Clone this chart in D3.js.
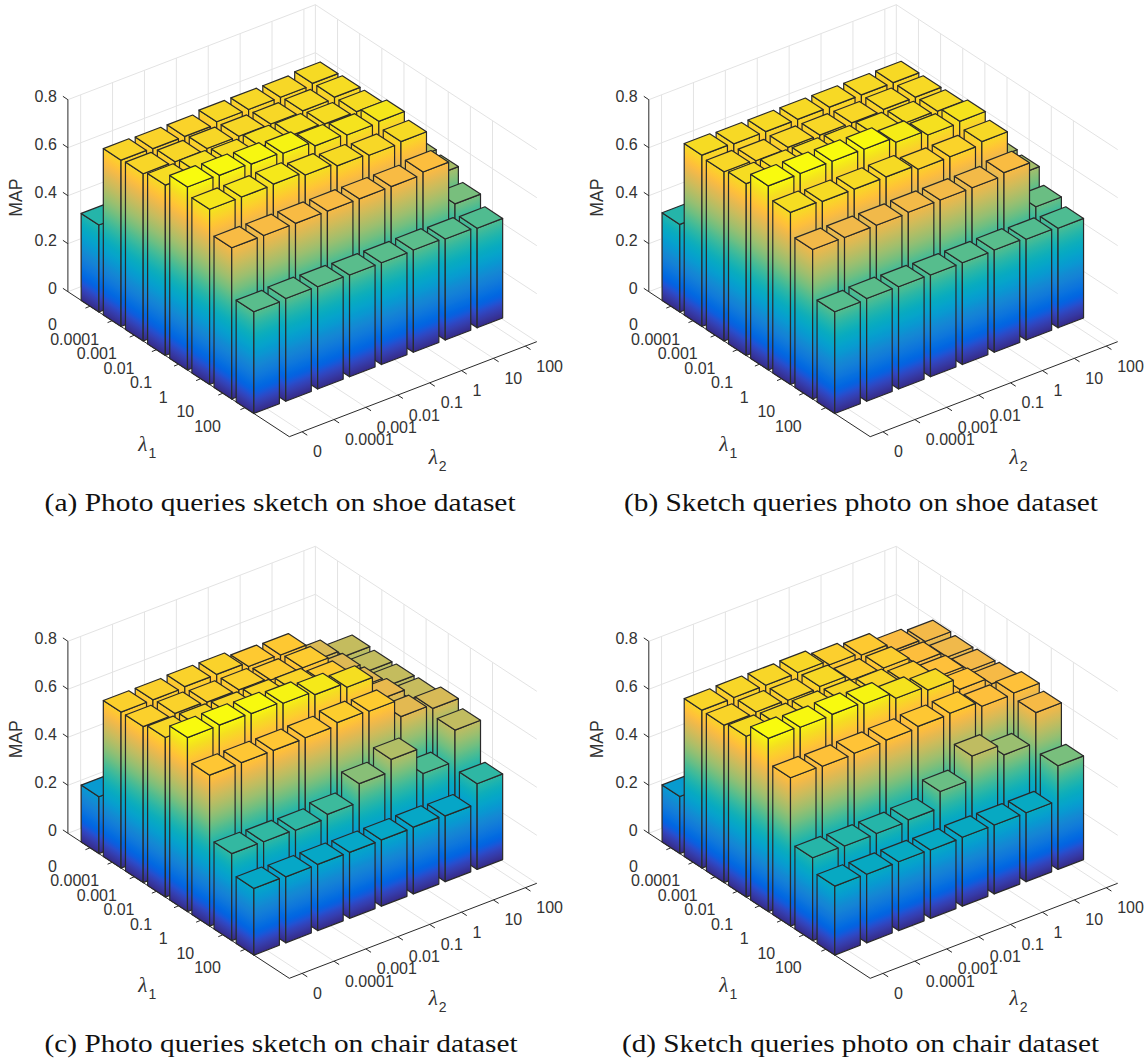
<!DOCTYPE html>
<html><head><meta charset="utf-8">
<script src="https://cdn.jsdelivr.net/npm/d3@7/dist/d3.min.js"></script>
<style>html,body{margin:0;padding:0;background:#fff;overflow:hidden}svg{display:block}</style>
</head><body><div id="chart"></div>
<script>
const lambdaLabels = ["0","0.0001","0.001","0.01","0.1","1","10","100"];
const zTicks = [0,0.2,0.4,0.6,0.8];
const captions = ["(a) Photo queries sketch on shoe dataset","(b) Sketch queries photo on shoe dataset","(c) Photo queries sketch on chair dataset","(d) Sketch queries photo on chair dataset"];
// rows: lambda1 (0 … 100), columns: lambda2 (0 … 100)
const mapA = [
 [.3625,.36,.36,.36,.36,.36,.36,.30],
 [.693,.69,.69,.70,.70,.70,.707,.50],
 [.697,.696,.70,.70,.70,.704,.71,.50],
 [.71,.714,.71,.717,.715,.71,.71,.50],
 [.7625,.76,.756,.75,.73,.724,.73,.52],
 [.73,.73,.733,.72,.707,.70,.706,.51],
 [.63,.63,.63,.63,.63,.63,.64,.456],
 [.424,.428,.426,.424,.424,.426,.421,.415]];
const mapB = [
 [.365,.36,.36,.36,.36,.36,.36,.30],
 [.714,.71,.71,.71,.71,.71,.71,.50],
 [.705,.70,.705,.705,.705,.71,.71,.50],
 [.716,.717,.716,.716,.72,.715,.712,.50],
 [.767,.768,.768,.767,.745,.724,.73,.52],
 [.717,.712,.712,.712,.693,.694,.706,.51],
 [.623,.622,.622,.625,.625,.625,.637,.444],
 [.424,.428,.426,.424,.424,.426,.42,.415]];
const mapC = [
 [.237,.235,.235,.235,.235,.235,.235,.23],
 [.65,.65,.654,.654,.636,.633,.555,.525],
 [.65,.654,.65,.65,.64,.64,.56,.522],
 [.665,.665,.664,.665,.66,.64,.564,.525],
 [.725,.726,.723,.715,.70,.68,.576,.528],
 [.629,.63,.63,.632,.644,.64,.567,.55],
 [.3625,.361,.358,.373,.45,.50,.39,.52],
 [.278,.275,.276,.275,.276,.278,.274,.357]];
const mapD = [
 [.238,.235,.235,.235,.235,.235,.235,.23],
 [.658,.66,.66,.662,.643,.633,.60,.587],
 [.656,.66,.658,.664,.64,.639,.608,.583],
 [.67,.668,.668,.665,.657,.64,.612,.587],
 [.722,.717,.72,.712,.685,.668,.62,.592],
 [.618,.615,.618,.622,.628,.632,.61,.614],
 [.345,.343,.344,.35,.417,.514,.468,.593],
 [.2875,.286,.287,.285,.287,.287,.287,.432]];
const parula = [[.2081,.1663,.5292],[.2116,.1898,.5777],[.2123,.2138,.6270],[.2081,.2386,.6771],[.1959,.2645,.7279],[.1707,.2919,.7792],[.1253,.3242,.8303],[.0591,.3598,.8683],[.0117,.3875,.8820],[.0060,.4086,.8828],[.0165,.4266,.8786],[.0329,.4430,.8720],[.0498,.4586,.8641],[.0629,.4737,.8554],[.0723,.4887,.8467],[.0779,.5040,.8384],[.0793,.5200,.8312],[.0749,.5375,.8263],[.0641,.5570,.8240],[.0488,.5772,.8228],[.0343,.5966,.8199],[.0265,.6137,.8135],[.0239,.6287,.8038],[.0231,.6418,.7913],[.0228,.6535,.7768],[.0267,.6642,.7607],[.0384,.6743,.7436],[.0590,.6838,.7254],[.0843,.6928,.7062],[.1133,.7015,.6859],[.1453,.7098,.6646],[.1801,.7177,.6424],[.2178,.7250,.6193],[.2586,.7317,.5954],[.3022,.7376,.5712],[.3482,.7424,.5473],[.3953,.7459,.5244],[.4420,.7481,.5033],[.4871,.7491,.4840],[.5300,.7491,.4661],[.5709,.7485,.4494],[.6099,.7473,.4337],[.6473,.7456,.4188],[.6834,.7435,.4044],[.7184,.7411,.3905],[.7525,.7384,.3768],[.7858,.7356,.3633],[.8185,.7327,.3498],[.8507,.7299,.3360],[.8824,.7274,.3217],[.9139,.7258,.3063],[.9450,.7261,.2886],[.9739,.7314,.2666],[.9938,.7455,.2403],[.9990,.7653,.2164],[.9955,.7861,.1967],[.9880,.8066,.1794],[.9789,.8271,.1633],[.9697,.8481,.1475],[.9626,.8705,.1309],[.9589,.8949,.1132],[.9598,.9218,.0948],[.9661,.9514,.0755],[.9763,.9831,.0538]].map(c=>d3.rgb(c[0]*255,c[1]*255,c[2]*255).formatHex());

const panels = [
 {map:mapA, ox:67.9, oy:291.7, cap:[44.6,471,502]},
 {map:mapB, ox:648.8, oy:291.7, cap:[624,474,502]},
 {map:mapC, ox:67.9, oy:833.3, cap:[44.6,473,1043]},
 {map:mapD, ox:648.8, oy:833.3, cap:[622,477,1043]}
];
const A_MAX=10, B_MIN=0.6, B_MAX=8.36, Z_MAX=0.8, HALF=0.4;
const ux=d3.scaleLinear([0,A_MAX],[0,221.4]), uy=d3.scaleLinear([0,A_MAX],[0,145]);
const vx=d3.scaleLinear([B_MIN,B_MAX],[0,247.5]), vy=d3.scaleLinear([B_MIN,B_MAX],[0,-95]);
const zy=d3.scaleLinear([0,Z_MAX],[0,-192]);
const GRID="#e3e3e3", AXIS="#2a2a2a", TXT="#333333", EDGE="#2a2a2a";
const W=1148,H=1059;
const svg=d3.select("#chart").append("svg").attr("width",W).attr("height",H).attr("viewBox",[0,0,W,H]);
svg.append("rect").attr("width",W).attr("height",H).attr("fill","#fff");
const defs=svg.append("defs");
const idx=d3.range(1,9);
const SANS="'Liberation Sans',Arial,sans-serif";

panels.forEach((p,pi)=>{
  const g=svg.append("g");
  const P=(a,b,z=0)=>[p.ox+ux(a)+vx(b), p.oy+uy(a)+vy(b)+zy(z)];
  const line=(q,r,col,w=1)=>g.append("line").attr("x1",q[0]).attr("y1",q[1]).attr("x2",r[0]).attr("y2",r[1]).attr("stroke",col).attr("stroke-width",w);
  // grid
  idx.forEach(i=>{
    line(P(i,B_MIN),P(i,B_MAX),GRID);
    line(P(i,B_MAX),P(i,B_MAX,Z_MAX),GRID);
    line(P(0,i),P(A_MAX,i),GRID);
    line(P(0,i),P(0,i,Z_MAX),GRID);
  });
  zTicks.forEach(z=>{
    line(P(0,B_MIN,z),P(0,B_MAX,z),GRID);
    line(P(0,B_MAX,z),P(A_MAX,B_MAX,z),GRID);
  });
  line(P(0,B_MAX),P(0,B_MAX,Z_MAX),GRID);
  // axes
  line(P(0,B_MIN),P(0,B_MIN,Z_MAX),AXIS);
  line(P(0,B_MIN),P(A_MAX,B_MIN),AXIS);
  line(P(A_MAX,B_MIN),P(A_MAX,B_MAX),AXIS);
  zTicks.forEach(z=>{
    const q=P(0,B_MIN,z); line(q,[q[0]-5,q[1]-3.4],AXIS);
    g.append("text").attr("x",56.8-67.9+p.ox).attr("y",q[1]-3).attr("text-anchor","end").attr("dominant-baseline","central")
      .attr("font-family",SANS).attr("font-size",16).attr("fill",TXT).text(d3.format(".1~f")(z));
  });
  idx.forEach((i,k)=>{
    const q=P(i,B_MIN); line(q,[q[0]-4.6,q[1]+1.9],AXIS);
    g.append("text").attr("x",q[0]-37.5).attr("y",q[1]+18.5).attr("text-anchor","middle").attr("dominant-baseline","central")
      .attr("font-family",SANS).attr("font-size",16).attr("fill",TXT).text(lambdaLabels[k]);
    const r=P(A_MAX,i); line(r,[r[0]+5.2,r[1]+3.4],AXIS);
    g.append("text").attr("x",r[0]+11).attr("y",r[1]+20).attr("text-anchor","start").attr("dominant-baseline","central")
      .attr("font-family",SANS).attr("font-size",16).attr("fill",TXT).text(lambdaLabels[k]);
  });
  g.append("text").attr("transform",`translate(${p.ox-52},${p.oy-94}) rotate(-90)`).attr("text-anchor","middle").attr("dominant-baseline","central")
    .attr("font-family",SANS).attr("font-size",17.6).attr("fill",TXT).text("MAP");
  const lam=(x,y,sub)=>{
    g.append("text").attr("x",x).attr("y",y).attr("text-anchor","middle").attr("dominant-baseline","central")
      .attr("font-family","'Liberation Serif',serif").attr("font-style","italic").attr("font-size",21).attr("fill",TXT).text("λ");
    g.append("text").attr("x",x+9.5).attr("y",y+9).attr("text-anchor","middle").attr("dominant-baseline","central")
      .attr("font-family",SANS).attr("font-size",14).attr("fill",TXT).text(sub);
  };
  lam(p.ox+75,p.oy+152,"1");
  lam(p.ox+365.3,p.oy+165,"2");
  // bars, painted back to front
  const zmax=d3.max(p.map.flat());
  const col=d3.scaleLinear(parula.map((_,k)=>k/(parula.length-1)*zmax),parula);
  const poly=pts=>pts.map(q=>q.map(v=>v.toFixed(2)).join(",")).join(" ");
  const grad=(id,base0,base1,h,z)=>{
    const ex=base1[0]-base0[0], ey=base1[1]-base0[1], L=Math.hypot(ex,ey);
    const nx=-ey/L, ny=ex/L, d=-h*ny;
    const lg=defs.append("linearGradient").attr("id",id).attr("gradientUnits","userSpaceOnUse")
      .attr("x1",base0[0]).attr("y1",base0[1]).attr("x2",base0[0]+nx*d).attr("y2",base0[1]+ny*d);
    d3.range(0,33).forEach(k=>{const t=k/32; lg.append("stop").attr("offset",t).attr("stop-color",col(z*t));});
  };
  const barG=g.append("g").attr("stroke",EDGE).attr("stroke-width",1.2).attr("stroke-linejoin","round");
  idx.forEach(i=>{
    [...idx].reverse().forEach(j=>{
      const z=p.map[i-1][j-1];
      const a0=i-HALF,a1=i+HALF,b0=j-HALF,b1=j+HALF;
      const h=-zy(z);
      const leftBase=[P(a0,b0),P(a1,b0)], rightBase=[P(a1,b0),P(a1,b1)];
      const idL=`g${pi}l${i}${j}`, idR=`g${pi}r${i}${j}`;
      grad(idL,leftBase[0],leftBase[1],h,z);
      grad(idR,rightBase[0],rightBase[1],h,z);
      barG.append("polygon").attr("points",poly([P(a0,b0),P(a1,b0),P(a1,b0,z),P(a0,b0,z)])).attr("fill",`url(#${idL})`);
      barG.append("polygon").attr("points",poly([P(a1,b0),P(a1,b1),P(a1,b1,z),P(a1,b0,z)])).attr("fill",`url(#${idR})`);
      barG.append("polygon").attr("points",poly([P(a0,b0,z),P(a1,b0,z),P(a1,b1,z),P(a0,b1,z)])).attr("fill",col(z));
    });
  });
  svg.append("text").attr("x",p.cap[0]).attr("y",p.cap[2]).attr("dominant-baseline","central")
    .attr("textLength",p.cap[1]).attr("lengthAdjust","spacingAndGlyphs")
    .attr("font-family","'Liberation Serif',serif").attr("font-size",25).attr("fill","#111").text(captions[pi]);
});
</script></body></html>
